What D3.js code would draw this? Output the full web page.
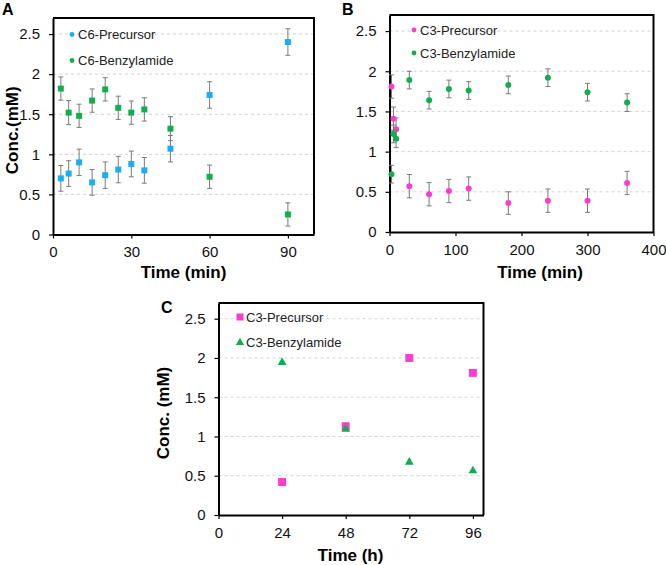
<!DOCTYPE html>
<html><head><meta charset="utf-8">
<script src="https://cdn.jsdelivr.net/npm/d3@7"></script>
<style>
html,body{margin:0;padding:0;background:#fff;}
svg text{font-family:"Liberation Sans",Arial,sans-serif;}
</style></head>
<body>
<svg id="chart" width="666" height="565"></svg>
<script>
// ---- Data ----
const yTicks = [0, 0.5, 1, 1.5, 2, 2.5];

// Panel A
const aTimes = [3, 6, 10, 15, 20, 25, 30, 35, 45, 60, 90];
const aPrecursor = [0.70, 0.76, 0.90, 0.65, 0.74, 0.81, 0.88, 0.80, 1.07, 1.74, 2.40];
const aPrecursorErr = [0.16, 0.16, 0.165, 0.16, 0.165, 0.165, 0.16, 0.16, 0.165, 0.165, 0.165];
const aBenzyl = [1.82, 1.52, 1.48, 1.67, 1.81, 1.58, 1.52, 1.56, 1.32, 0.72, 0.25];
const aBenzylErr = [0.145, 0.15, 0.145, 0.145, 0.145, 0.145, 0.145, 0.145, 0.15, 0.145, 0.145];
const aXTicks = [0, 30, 60, 90];

// Panel B
const bTimes = [3, 6, 10, 30, 60, 90, 120, 180, 240, 300, 360];
const bPrecursor = [1.81, 1.41, 1.28, 0.57, 0.47, 0.51, 0.54, 0.36, 0.39, 0.39, 0.61];
const bPrecursorErr = [0.145, 0.145, 0.14, 0.145, 0.145, 0.145, 0.145, 0.14, 0.145, 0.145, 0.145];
const bBenzyl = [0.72, 1.22, 1.16, 1.89, 1.64, 1.78, 1.76, 1.83, 1.92, 1.74, 1.61];
const bBenzylErr = [0.11, 0.11, 0.11, 0.11, 0.11, 0.11, 0.11, 0.11, 0.11, 0.11, 0.11];
const bXTicks = [0, 100, 200, 300, 400];

// Panel C
const cTimes = [24, 48, 72, 96];
const cPrecursor = [0.42, 1.13, 2.00, 1.81];
const cBenzyl = [1.95, 1.10, 0.68, 0.57];
const cXTicks = [0, 24, 48, 72, 96];

const colBlue = "#1aaeee", colGreen = "#12ad4f", colPink = "#ff3ccf";

const svg = d3.select("#chart");

function panel(o) {
  const g = svg.append("g");
  const x = d3.scaleLinear().domain([0, o.xMax]).range([o.left, o.right]);
  const y = d3.scaleLinear().domain([0, 2.7]).range([o.bottom, o.top]);
  // grid
  g.selectAll(".grid").data(yTicks.filter(d => d > 0)).join("line")
    .attr("x1", o.left).attr("x2", o.right)
    .attr("y1", d => y(d)).attr("y2", d => y(d))
    .attr("stroke", "#d2d2d2").attr("stroke-width", 1).attr("stroke-dasharray", "3,3");
  // frame top/right
  g.append("path")
    .attr("d", `M${o.left},${o.top}H${o.right}V${o.bottom}`)
    .attr("fill", "none").attr("stroke", "#000").attr("stroke-width", 2);
  // axes
  const xa = g.append("g").attr("transform", `translate(0,${o.bottom})`)
    .call(d3.axisBottom(x).tickValues(o.xTicks).tickFormat(d3.format("d")).tickSizeInner(4).tickSizeOuter(0).tickPadding(8));
  const ya = g.append("g").attr("transform", `translate(${o.left},0)`)
    .call(d3.axisLeft(y).tickValues(yTicks).tickFormat(d => String(d)).tickSizeInner(4).tickSizeOuter(0).tickPadding(9));
  [xa, ya].forEach(a => {
    a.select(".domain").attr("stroke", "#000").attr("stroke-width", 2);
    a.selectAll(".tick line").attr("stroke", "#000").attr("stroke-width", 1.2);
    a.selectAll(".tick text").attr("font-size", 15).attr("fill", "#111");
  });
  // titles
  g.append("text").attr("x", o.xTitleX).attr("y", o.xTitleY).attr("text-anchor", "middle")
    .attr("font-size", 17).attr("font-weight", "bold").text(o.xTitle);
  if (o.yTitle) {
    g.append("text").attr("transform", `translate(${o.yTitleX},${(o.top + o.bottom) / 2 + 4}) rotate(-90)`)
      .attr("text-anchor", "middle").attr("font-size", 17).attr("font-weight", "bold").text(o.yTitle);
  }
  g.append("text").attr("x", o.labelX).attr("y", o.labelY)
    .attr("font-size", 16).attr("font-weight", "bold").text(o.label);
  return {g, x, y};
}

function errorSeries(P, times, vals, errs, color, shape) {
  const data = times.map((t, i) => ({t, v: vals[i], e: errs[i]}));
  const eb = P.g.append("g").attr("stroke", "#7a7a7a").attr("stroke-width", 1);
  data.forEach(d => {
    const cx = P.x(d.t), y1 = P.y(d.v + d.e), y2 = P.y(d.v - d.e);
    eb.append("line").attr("x1", cx).attr("x2", cx).attr("y1", y1).attr("y2", y2);
    eb.append("line").attr("x1", cx - 2.5).attr("x2", cx + 2.5).attr("y1", y1).attr("y2", y1);
    eb.append("line").attr("x1", cx - 2.5).attr("x2", cx + 2.5).attr("y1", y2).attr("y2", y2);
  });
  if (shape === "square") {
    P.g.append("g").selectAll("rect").data(data).join("rect")
      .attr("x", d => P.x(d.t) - 3).attr("y", d => P.y(d.v) - 3)
      .attr("width", 6).attr("height", 6).attr("fill", color);
  } else {
    P.g.append("g").selectAll("circle").data(data).join("circle")
      .attr("cx", d => P.x(d.t)).attr("cy", d => P.y(d.v)).attr("r", 3).attr("fill", color);
  }
}

function legend(P, items, x0, y0, dy) {
  items.forEach((it, i) => {
    const cy = y0 + i * dy;
    if (it.shape === "circle") {
      P.g.append("circle").attr("cx", x0).attr("cy", cy).attr("r", 2.4).attr("fill", it.color);
    } else if (it.shape === "square") {
      P.g.append("rect").attr("x", x0 - 3.5).attr("y", cy - 3.5).attr("width", 7).attr("height", 7).attr("fill", it.color);
    } else {
      P.g.append("path").attr("d", d3.symbol(d3.symbolTriangle, 30)()).attr("transform", `translate(${x0},${cy + 0.5})`).attr("fill", it.color);
    }
    P.g.append("text").attr("x", x0 + 6).attr("y", cy + 4.5).attr("font-size", 13).attr("fill", "#222").text(it.name);
  });
}

// Panel A
const A = panel({left: 53, right: 314, top: 18, bottom: 234.5, xMax: 100, xTicks: aXTicks,
  xTitle: "Time (min)", xTitleX: 183.5, xTitleY: 278, yTitle: "Conc.(mM)", yTitleX: 18,
  label: "A", labelX: 2, labelY: 15});
errorSeries(A, aTimes, aBenzyl, aBenzylErr, colGreen, "square");
errorSeries(A, aTimes, aPrecursor, aPrecursorErr, colBlue, "square");
legend(A, [{name: "C6-Precursor", color: colBlue, shape: "circle"},
           {name: "C6-Benzylamide", color: colGreen, shape: "circle"}], 72, 34.5, 26);

// Panel B
const B = panel({left: 389.5, right: 653.5, top: 15, bottom: 232, xMax: 400, xTicks: bXTicks,
  xTitle: "Time (min)", xTitleX: 540, xTitleY: 278, yTitle: null,
  label: "B", labelX: 342, labelY: 15});
errorSeries(B, bTimes, bPrecursor, bPrecursorErr, colPink, "circle");
errorSeries(B, bTimes, bBenzyl, bBenzylErr, colGreen, "circle");
legend(B, [{name: "C3-Precursor", color: colPink, shape: "circle"},
           {name: "C3-Benzylamide", color: colGreen, shape: "circle"}], 414, 30, 23);

// Panel C
const C = panel({left: 218.5, right: 483.5, top: 303, bottom: 515, xMax: 100, xTicks: cXTicks,
  xTitle: "Time (h)", xTitleX: 350.5, xTitleY: 561, yTitle: "Conc. (mM)", yTitleX: 169,
  label: "C", labelX: 161, labelY: 313});
C.g.append("g").selectAll("rect").data(cTimes.map((t, i) => ({t, v: cPrecursor[i]}))).join("rect")
  .attr("x", d => C.x(d.t) - 4).attr("y", d => C.y(d.v) - 4).attr("width", 8).attr("height", 8).attr("fill", colPink);
C.g.append("g").selectAll("path").data(cTimes.map((t, i) => ({t, v: cBenzyl[i]}))).join("path")
  .attr("d", d3.symbol(d3.symbolTriangle, 34)())
  .attr("transform", d => `translate(${C.x(d.t)},${C.y(d.v) + 0.5})`).attr("fill", colGreen);
legend(C, [{name: "C3-Precursor", color: colPink, shape: "square"},
           {name: "C3-Benzylamide", color: colGreen, shape: "triangle"}], 240, 317, 25);
</script>
</body></html>
